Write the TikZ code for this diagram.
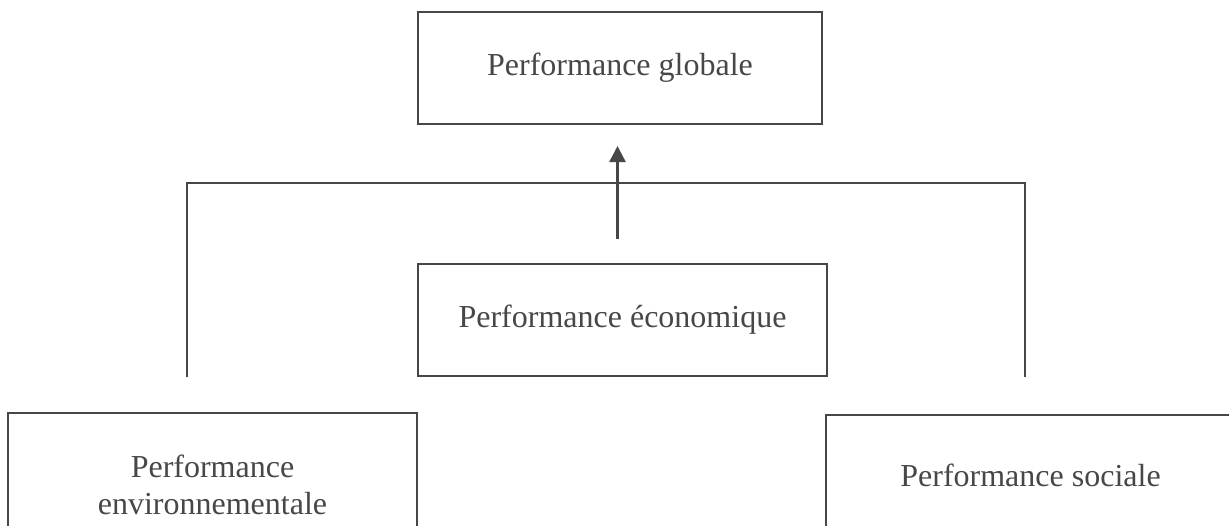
\documentclass[tikz,border=0pt]{standalone}
\usepackage{fontspec}
\setmainfont{Liberation Serif}
\usetikzlibrary{arrows.meta}
\definecolor{trait}{HTML}{474747}
\tikzset{
  boite/.style={draw=trait, line width=1pt, text=trait, inner sep=0pt,
    minimum width=204.5pt, minimum height=56pt, align=center,
    font=\fontsize{16}{18.5}\selectfont},
  lien/.style={draw=trait, line width=1.2pt},
  fleche/.style={lien, -{Triangle[width=8pt, length=8pt]}}
}
\begin{document}
\begin{tikzpicture}[x=0.5pt, y=-0.5pt]
	\useasboundingbox (0, 0) rectangle (1229, 525);
	\clip (0, 0) rectangle (1229, 525);

	%haut
	\node[boite, minimum width=202pt] (glob) at (620, 68) {Performance globale};

	%milieu
	\node[boite] (eco) at (622.5, 320) {Performance économique};
	\coordinate (depart) at ([xshift=-2.5pt]eco.north);
	\draw[fleche, shorten <=12pt, shorten >=10.5pt] (depart) -- (depart |- glob.south);

	%bas
	\node[boite, minimum height=72pt] (env) at (212.5, 485) {Performance\\environnementale};
	\node[boite, minimum height=60pt] (soc) at (1030.5, 475) {Performance sociale};

	%accolade
	\coordinate (bg) at (187, 377);
	\coordinate (hg) at (187, 183);
	\coordinate (hd) at (1025, 183);
	\coordinate (bd) at (1025, 377);
	\draw[lien] (bg) -- (hg) -- (hd) -- (bd);
\end{tikzpicture}
\end{document}
